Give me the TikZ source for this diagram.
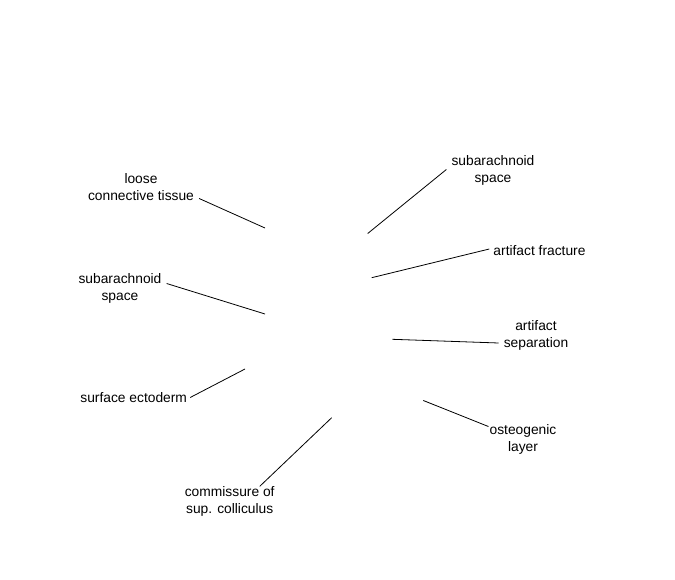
\documentclass[tikz,border=0pt]{standalone}
\usepackage{fontspec}
\setmainfont{Liberation Sans}
\begin{document}
\begin{tikzpicture}[x=1pt,y=-1pt,
  lbl/.style={align=center,inner sep=3pt,font=\fontsize{13.8}{17}\selectfont},
  leader/.style={draw=black,line width=0.8pt}]
\useasboundingbox[fill=white] (0,0) rectangle (675,580);
% labels
\node[lbl] (lct) at (141,187) {loose\\connective tissue};
\node[lbl] (sl) at (120,288) {subarachnoid\\space};
\node[lbl] (se) at (133.7,398) {surface ectoderm};
\node[lbl] (com) at (229.7,501) {commissure of\\sup. colliculus};
\node[lbl] (sr) at (493,170) {subarachnoid\\space};
\node[lbl] (af) at (539.5,250.5) {artifact fracture};
\node[lbl] (as) at (536,335.5) {artifact\\separation};
\node[lbl] (ol) at (523,439) {osteogenic\\layer};
% free ends
\coordinate (p1) at (265,228);
\coordinate (p2) at (265,314);
\coordinate (p3) at (245,369);
\coordinate (p4) at (331.7,417.7);
\coordinate (p5) at (367.7,233.5);
\coordinate (p6) at (371.7,277.7);
\coordinate (p7) at (392.3,339.3);
\coordinate (p8) at (423.3,400.5);
% leaders
\draw[leader] ([xshift=2pt,yshift=-11.5pt]lct.east) -- (p1);
\draw[leader] ([xshift=2pt,yshift=4.5pt]sl.east) -- (p2);
\draw[leader] ([xshift=0pt,yshift=0.5pt]se.east) -- (p3);
\draw[leader] ([xshift=30pt,yshift=-3.5pt]com.north) -- (p4);
\draw[leader] ([xshift=-2pt,yshift=0.5pt]sr.west) -- (p5);
\draw[leader] ([xshift=-1pt,yshift=1.5pt]af.west) -- (p6);
\draw[leader] ([xshift=-2pt,yshift=-7.5pt]as.west) -- (p7);
\draw[leader] ([xshift=2pt,yshift=12.5pt]ol.west) -- (p8);
\end{tikzpicture}
\end{document}
